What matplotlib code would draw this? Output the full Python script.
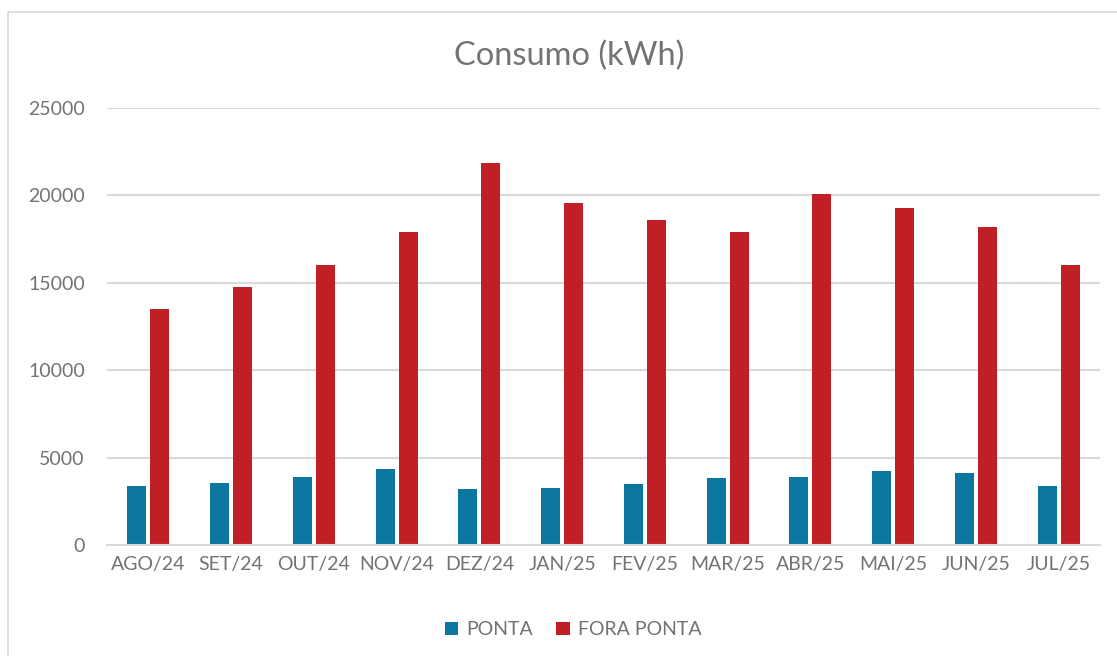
import numpy as np
import matplotlib.pyplot as plt
from matplotlib.patches import Rectangle

meses = ['AGO/24', 'SET/24', 'OUT/24', 'NOV/24', 'DEZ/24', 'JAN/25',
         'FEV/25', 'MAR/25', 'ABR/25', 'MAI/25', 'JUN/25', 'JUL/25']
ponta = [3380, 3550, 3890, 4350, 3220, 3300, 3510, 3850, 3910, 4250, 4160, 3410]
fora_ponta = [13530, 14770, 16030, 17930, 21880, 19590, 18620, 17920, 20110, 19310, 18180, 16040]
yticks = [0, 5000, 10000, 15000, 20000, 25000]

plt.rcParams['font.family'] = ['Lato', 'DejaVu Sans']
cor_texto = '#737373'
cor_grade = '#d9d9d9'

fig = plt.figure(figsize=(11.17, 6.56), dpi=100)
ax = fig.add_axes([0.0958, 0.1688, 0.889, 0.6666])

x = np.arange(len(meses))
w = 0.23
ax.bar(x - 0.14, ponta, w, color='#0b76a0', label='PONTA', zorder=3)
ax.bar(x + 0.14, fora_ponta, w, color='#c01f26', label='FORA PONTA', zorder=3)

ax.set_xlim(-0.5, len(meses) - 0.5)
ax.set_ylim(0, 25000)
ax.set_yticks(yticks)
ax.set_yticklabels([str(v) for v in yticks])
ax.set_xticks(x)
ax.set_xticklabels(meses)
ax.grid(axis='y', color=cor_grade, linewidth=1.5, zorder=0)
ax.tick_params(length=0, labelsize=14, colors=cor_texto, pad=8)
ax.tick_params(axis='y', pad=16)
for s in ['top', 'right', 'left']:
    ax.spines[s].set_visible(False)
ax.spines['bottom'].set_color(cor_grade)
ax.spines['bottom'].set_linewidth(1.5)
ax.spines['bottom'].set_zorder(4)

fig.text(0.5095, 0.915, 'Consumo (kWh)', ha='center', va='center',
         fontsize=23.5, color=cor_texto)

fig.legend(loc='center', bbox_to_anchor=(0.513, 0.040), ncol=2, frameon=False,
           fontsize=14, labelcolor=cor_texto, handlelength=0.7, handleheight=0.7,
           handletextpad=0.4, columnspacing=1.2)

fig.patches.append(Rectangle((8 / 1117, -0.01), 1.0, 1 - 12 / 656 + 0.01,
                             transform=fig.transFigure, fill=False,
                             edgecolor=cor_grade, linewidth=1.2))

plt.savefig('out.png', dpi=100)
